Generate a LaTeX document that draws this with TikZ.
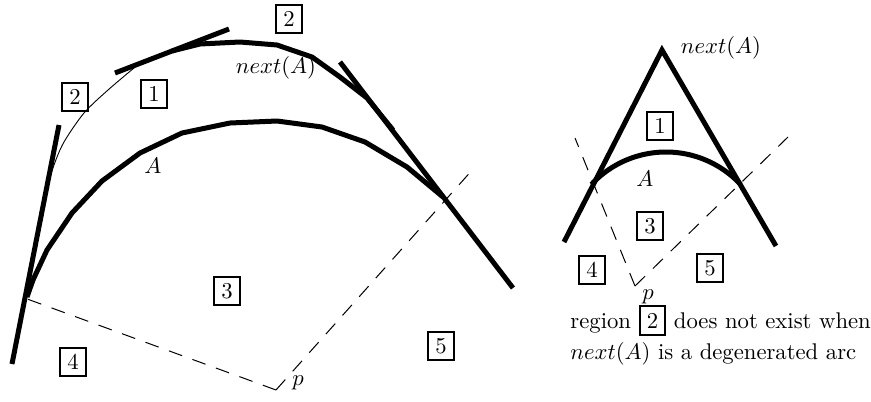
\documentclass[tikz,border=0pt]{standalone}
\tikzset{
  thickline/.style={line width=5pt, line join=round},
  thinline/.style={line width=0.9pt},
  dashline/.style={line width=1pt, dash pattern=on 14pt off 11pt},
  numbox/.style={draw, line width=2.5pt, minimum width=11.6pt, minimum height=12.2pt, inner sep=0pt, font=\fontsize{10}{12}\selectfont, scale=2.27, transform shape},
  lbl/.style={inner sep=0pt, font=\fontsize{10}{12}\selectfont, scale=2.27, transform shape},
}
\begin{document}
\begin{tikzpicture}[x=1pt,y=-1pt]
\useasboundingbox (0,0) rectangle (871,402);
% ---------- left figure ----------
\coordinate (p) at (276,390);
\coordinate (d1) at (19,296);
\coordinate (d2) at (474,168);
\draw[dashline] (p) -- (d1);
\draw[dashline] (p) -- (d2);
% tangent lines
\coordinate (lt1) at (12,364); \coordinate (lt2) at (59,125);
\coordinate (rt1) at (340,62); \coordinate (rt2) at (513,288);
\coordinate (tt1) at (115,73); \coordinate (tt2) at (229,29);
\draw[thickline, line cap=butt] (lt1) -- (lt2);
\draw[thickline, line cap=butt] (rt1) -- (rt2);
\draw[thickline, line cap=butt] (tt1) -- (tt2);
% arc A
\draw[thickline] (27,297) -- (33,280) -- (47,250) -- (72,213) -- (102,181) -- (140,153) -- (182,133) -- (230,123) -- (277,121) -- (322,127) -- (365,142) -- (407,167) -- (443,197);
% next(A)
\draw[thickline] (172,51) -- (200,44) -- (240,42) -- (277,45) -- (312,57) -- (340,77) -- (367,98) -- (393,130);
% thin curve
\draw[thinline] plot[smooth] coordinates {(47,188) (54,165) (64,142) (84,113) (108,90) (134,68)};
% labels
\node[lbl] (nA) at (276,68) {$next(A)$};
\node[lbl] (A) at (153,166) {$A$};
\node[lbl, anchor=base] (pl) at (298,385) {$p$};
\node[numbox] (b1) at (154,94) {1};
\node[numbox] (b2a) at (75,97) {2};
\node[numbox] (b2b) at (289,19) {2};
\node[numbox] (b3) at (227,291) {3};
\node[numbox] (b4) at (73,362) {4};
\node[numbox] (b5) at (441,346) {5};
% ---------- right figure ----------
\coordinate (q) at (635,286);
\coordinate (e1) at (575,138);
\coordinate (e2) at (788,137);
\draw[dashline] (q) -- (e1);
\draw[dashline] (q) -- (e2);
\coordinate (s1) at (564,242); \coordinate (apex) at (662,50); \coordinate (s2) at (776,246);
\draw[thickline, line join=miter, line cap=butt] (s1) -- (apex) -- (s2);
\coordinate (c) at (666,254);
\draw[thickline] (c) ++(-137:102) arc[start angle=-137, end angle=-43, radius=102];
\node[lbl] (nA2) at (721,48) {$next(A)$};
\node[lbl] (A2) at (645,179) {$A$};
\node[lbl, anchor=base] (pl2) at (648,299) {$p$};
\node[numbox] (c1) at (660,126) {1};
\node[numbox] (c3) at (650,226) {3};
\node[numbox] (c4) at (592,270) {4};
\node[numbox] (c5) at (710,268) {5};
\node[lbl, anchor=base west] (t1) at (570,328) {\setlength{\fboxsep}{2.5pt}\setlength{\fboxrule}{1.1pt}region \fbox{2} does not exist when};
\node[lbl, anchor=base west] (t2) at (570,359) {$next(A)$ is a degenerated arc};
\end{tikzpicture}
\end{document}
